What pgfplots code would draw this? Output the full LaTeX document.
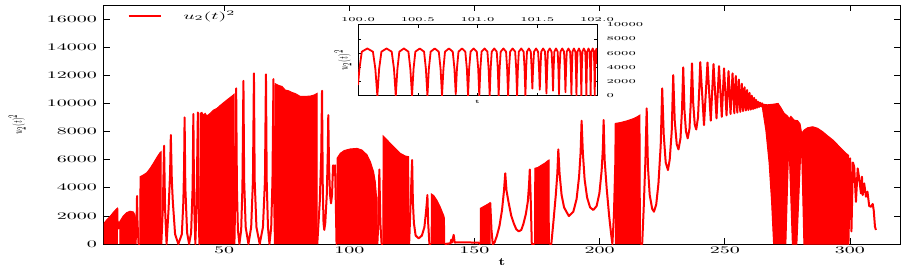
\documentclass[border=0pt]{standalone}
\usepackage{graphicx}
\usepackage{pgfplots}
\pgfplotsset{compat=1.18}
\begin{document}
\begin{tikzpicture}
\useasboundingbox (-104pt,-27pt) rectangle (809pt,244pt);
\begin{axis}[
  at={(0pt,0pt)}, anchor=south west,
  scale only axis, width=796pt, height=239pt,
  xmin=2, xmax=320, ymin=0, ymax=17000,
  xtick={50,100,...,300}, ytick={0,2000,...,16000},
  scaled ticks=false,
  /pgf/number format/1000 sep={},
  tick align=inside, major tick length=6pt,
  tick style={black, line width=0.6pt},
  axis line style={black, line width=1pt},
  xticklabel={\scalebox{2}[1]{$\pgfmathprintnumber{\tick}$}},
  yticklabel={\scalebox{2}[1]{$\pgfmathprintnumber{\tick}$}},
  yticklabel style={xshift=-3.5pt},
  xlabel={\scalebox{1.5}[1.1]{$\mathbf{t}$}},
  xlabel style={at={(axis description cs:0.5,0)}, anchor=center, yshift=-18pt},
  ylabel={\scalebox{1}[2.5]{\fontsize{5}{6}\selectfont $u_2(t)^2$}},
  ylabel style={at={(axis description cs:-0.109,0.5)}, anchor=center},
  legend style={draw=none, fill=none, at={(axis description cs:0.03,0.954)}, anchor=west, inner sep=0pt},
]
\addlegendimage{red, line width=1.2pt, legend image code/.code={\draw[draw=red, line width=1.2pt] (0pt,0pt) -- (32pt,0pt);}}
\addlegendentry{\hspace*{20pt}\scalebox{2}[1]{$u_2(t)^2$}}
% filled dense regions
\addplot[fill=red, draw=red, line width=1pt, forget plot] coordinates {(2.0,0) (2.0,1470) (3.0,1700) (4.4,1950) (5.7,2240) (6.8,2460) (7.3,2536) (7.35,0)};
\addplot[fill=red, draw=red, line width=1pt, forget plot] coordinates {(8.3,0) (8.3,1590) (9.7,1990) (11.1,2230) (12.4,2330) (13.7,2280) (14.4,2060) (14.6,1800) (14.6,0)};
\addplot[fill=red, draw=red, line width=1pt, forget plot] coordinates {(16.3,0) (16.4,4787) (17.7,4906) (19.1,5070) (20.4,5370) (21.7,5730) (23.1,6150) (24.4,6500) (24.8,6560) (24.9,0)};
\addplot[fill=red, draw=red, line width=1pt, forget plot] coordinates {(40.3,0) (40.4,9290) (41.1,9360) (41.7,9170) (42.4,9290) (43.1,9100) (44.4,9290) (45.7,9520) (47.1,9640) (48.4,9850) (49.7,10040) (51.1,10240) (52.4,10420) (53.7,10600) (54.0,10650) (54.1,0)};
\addplot[fill=red, draw=red, line width=1pt, forget plot] coordinates {(70.3,0) (70.4,11400) (71.7,11280) (73.1,11210) (74.4,10950) (75.7,10900) (77.1,10780) (78.4,10700) (80.4,10500) (82.4,10500) (84.4,10520) (86.0,10600) (87.1,10710) (87.2,0)};
\addplot[fill=red, draw=red, line width=1pt, forget plot] coordinates {(95.0,0) (95.1,6100) (96.4,6450) (98.0,6650) (100.4,6760) (103.1,6800) (105.1,6680) (107.1,6330) (108.4,5850) (109.7,5140) (110.4,4400) (110.8,3500) (111.1,3300) (111.2,0)};
\addplot[fill=red, draw=red, line width=1pt, forget plot] coordinates {(113.4,0) (113.5,7680) (115.1,7396) (117.7,6920) (120.4,6445) (122.4,6255) (123.7,6210) (123.9,0)};
\addplot[fill=red, draw=red, line width=1pt, forget plot] coordinates {(132.7,0) (132.8,3555) (133.7,3450) (135.1,3080) (136.4,2600) (137.7,2025) (138.0,1830) (138.1,0)};
\addplot[fill=red, draw=red, line width=1pt, forget plot] coordinates {(152.3,0) (152.4,2540) (154.0,2700) (155.5,2850) (156.3,2940) (156.3,0)};
\addplot[fill=red, draw=red, line width=1pt, forget plot] coordinates {(174.0,0) (174.1,5380) (175.4,5450) (176.7,5600) (178.1,5750) (179.5,5950) (179.8,5972) (179.9,0)};
\addplot[fill=red, draw=red, line width=1pt, forget plot] coordinates {(206.3,0) (206.4,8580) (208.4,8640) (211.1,8770) (213.7,8930) (215.1,9055) (216.1,9170) (216.3,0)};
\addplot[fill=red, draw=red, line width=1pt, forget plot] coordinates {(269.5,0) (268.7,3000) (267.7,5800) (266.4,8105) (265.1,9600) (265.1,9950) (267.0,9900) (269.7,9950) (271.3,10000) (272.4,9700) (273.7,9300) (275.1,9100) (275.7,8900) (276.4,9080) (277.7,8810) (279.1,8770) (280.1,8530) (280.7,7870) (281.7,8105) (283.1,8270) (285.1,8340) (287.1,8230) (289.1,7990) (291.1,7690) (293.1,7410) (295.1,7050) (297.1,6690) (298.4,6450) (299.3,6330) (299.4,0) (281.6,0) (280.6,7600) (278.8,0) (277.0,0) (275.6,7400) (274.4,0)};
% oscillating line segments
\addplot[red, line width=2pt, line join=round, forget plot] coordinates {(7.3,2536) (7.45,1100) (8.2,1150) (8.35,1590)};
\addplot[red, line width=2pt, line join=round, forget plot] coordinates {(14.6,0) (15.0,1500) (15.2,3413) (15.4,1500) (15.8,0) (16.3,0)};
\addplot[red, line width=2pt, line join=round, forget plot] coordinates {(24.9,0) (25.5,2500) (26.0,6990) (26.4,2500) (27.0,0) (27.8,2500) (28.4,5000) (28.7,7750) (29.1,4500) (29.5,3000) (30.4,700) (31.7,0) (33.1,700) (33.7,3000) (34.0,5500) (34.2,9005) (34.5,4000) (35.2,800) (36.0,0) (36.8,800) (37.4,4000) (37.7,9240) (38.0,3000) (38.5,0) (39.0,3000) (39.5,9360) (39.8,3000) (40.1,0) (40.3,0)};
\addplot[red, line width=2pt, line join=round, forget plot] coordinates {(54.1,0) (54.5,4000) (54.8,11070) (55.1,4000) (55.5,1000) (56.1,0) (56.8,1000) (57.3,4000) (57.7,11600) (58.0,4500) (58.6,1200) (59.7,0) (60.8,1200) (61.5,4500) (61.9,12135) (62.2,4500) (62.9,1200) (64.2,0) (65.5,1200) (66.3,4500) (66.7,12060) (67.0,4500) (67.5,1200) (68.1,0) (68.8,1200) (69.3,4500) (69.7,11730) (70.0,3000) (70.3,0)};
\addplot[red, line width=2pt, line join=round, forget plot] coordinates {(87.2,0) (88.2,3000) (88.8,6500) (89.1,10900) (89.4,4000) (89.7,1500) (90.0,1000) (90.4,1500) (91.0,3500) (91.4,6500) (91.6,9170) (91.9,5500) (92.3,3500) (92.7,2890) (93.1,3500) (93.5,5600) (93.9,4900) (94.3,5600) (94.6,3000) (94.9,0) (95.0,0)};
\addplot[red, line width=2pt, line join=round, forget plot] coordinates {(111.2,0) (111.6,1500) (112.0,5300) (112.4,1500) (112.9,0) (113.4,0)};
\addplot[red, line width=2pt, line join=round, forget plot] coordinates {(123.9,0) (124.4,2500) (124.8,4500) (125.1,5972) (125.4,3000) (125.8,1500) (126.5,600) (127.7,400) (129.0,600) (130.0,1200) (130.6,2200) (131.0,3000) (131.2,3484) (131.5,1500) (132.0,0) (132.7,0)};
\addplot[red, line width=2pt, line join=round, forget plot] coordinates {(138.1,0) (140.4,50) (140.7,300) (141.0,100) (141.7,650) (142.1,100) (143.0,120) (151.6,100) (152.2,0) (152.3,0)};
\addplot[red, line width=2pt, line join=round, forget plot] coordinates {(156.3,2940) (156.8,1000) (157.3,0) (158.0,100) (159.0,600) (160.0,1300) (161.0,2400) (161.8,3800) (162.3,5030) (162.8,3800) (163.7,2890) (164.7,2000) (165.7,1470) (166.7,1050) (167.7,900) (168.7,1000) (169.5,1400) (170.5,2100) (171.3,3000) (171.8,4200) (172.1,5300) (172.5,3000) (172.9,0) (174.0,0)};
\addplot[red, line width=2pt, line join=round, forget plot] coordinates {(179.9,0) (180.7,0) (181.5,1500) (182.5,3500) (183.1,5000) (183.5,6730) (184.0,5000) (184.8,3500) (185.8,2600) (187.7,1990) (189.5,2300) (190.8,3200) (191.8,4800) (192.4,6500) (192.8,8770) (193.3,6500) (194.0,4600) (195.0,3300) (196.2,2600) (197.5,2420) (198.8,2700) (199.9,3600) (200.8,5200) (201.3,6800) (201.6,8820) (202.0,6000) (202.8,4000) (203.8,2000) (204.6,700) (205.1,0) (205.7,2000) (206.3,6000) (206.4,8580)};
\addplot[red, line width=2pt, line join=round, forget plot] coordinates {(216.3,0) (217.0,0) (217.6,2500) (218.3,6000) (218.8,9645) (219.3,5500) (220.0,3500) (221.0,2500) (221.7,2300) (222.6,2800) (223.5,4300) (224.4,7000) (225.0,11070) (225.6,7800) (226.4,5800) (227.3,5260) (228.0,6000) (228.8,8000) (229.4,12015) (230.0,8800) (230.8,7100) (231.5,6730) (232.3,7500) (232.9,9500) (233.4,12560) (233.9,9500) (234.5,8000) (235.2,7515) (235.9,8200) (236.4,10000) (236.9,12840) (237.4,10000) (238.0,8500) (238.6,8150) (239.3,9000) (239.8,11000) (240.2,12930) (241.7,8460) (243.1,12910) (244.4,8770) (245.5,12800) (246.7,8940) (247.7,12650) (248.8,9050) (249.7,12490) (250.7,9150) (251.5,12300) (252.3,9250) (253.1,12140) (253.8,9300) (254.4,11950) (255.0,9350) (255.6,11700) (256.2,9400) (256.8,11400) (257.3,9450) (257.9,11150) (258.4,9500) (258.9,10950) (259.4,9530) (259.9,10750) (260.4,9560) (260.8,10550) (261.3,9600) (261.7,10400) (262.1,9650) (262.5,10250) (262.9,9700) (263.3,10120) (263.7,9750) (264.1,10050) (264.5,9800) (264.9,10000) (265.1,9700)};
\addplot[red, line width=2pt, line join=round, forget plot] coordinates {(299.3,6330) (299.4,0) (300.1,6090) (300.6,900) (301.2,5800) (301.7,5500) (302.4,3000) (303.1,5380) (303.7,4670) (304.4,3600) (304.8,4785) (305.1,3480) (305.7,4310) (306.4,3365) (307.0,3720) (307.7,2700) (308.4,2650) (309.1,2850) (309.5,2400) (310.0,1230) (310.4,1000)};
\end{axis}
\begin{axis}[
  at={(254pt,148.3pt)}, anchor=south west,
  scale only axis, width=239pt, height=71pt,
  xmin=100, xmax=102, ymin=0, ymax=10000,
  xtick={100,100.5,...,102}, ytick={0,2000,...,10000},
  scaled ticks=false,
  /pgf/number format/1000 sep={},
  xticklabel pos=upper, yticklabel pos=right,
  tick align=inside, major tick length=3pt,
  tick style={black, line width=0.5pt},
  axis background/.style={fill=white},
  axis line style={black, line width=0.8pt},
  xticklabel={\scalebox{2}[1]{\fontsize{6.5}{7}\selectfont$\pgfmathprintnumber[fixed,fixed zerofill,precision=1]{\tick}$}},
  yticklabel={\scalebox{2}[1]{\fontsize{6.5}{7}\selectfont$\pgfmathprintnumber{\tick}$}},
  yticklabel style={xshift=6pt},
  xlabel={\scalebox{1.4}[1]{\fontsize{5}{6}\selectfont$\mathbf{t}$}},
  xlabel style={at={(axis description cs:0.5,0)}, anchor=center, yshift=-6pt},
  ylabel={\scalebox{1}[2.5]{\fontsize{4.5}{5}\selectfont $u_2(t)^2$}},
  ylabel style={at={(axis description cs:-0.063,0.5)}, anchor=center},
]
\addplot[red, line width=1.8pt, line join=round] coordinates {
(100.000,1500) (100.012,3800) (100.032,6200) (100.078,6650) (100.125,6200) (100.145,3800) (100.162,0)
(100.177,3800) (100.196,6200) (100.239,6650) (100.282,6200) (100.301,3800) (100.316,0)
(100.330,3800) (100.346,6200) (100.384,6650) (100.422,6200) (100.438,3800) (100.452,0)
(100.465,3800) (100.480,6200) (100.517,6650) (100.553,6200) (100.568,3800) (100.581,0)
(100.593,3800) (100.608,6200) (100.642,6650) (100.676,6200) (100.691,3800) (100.703,0)
(100.715,3800) (100.728,6200) (100.761,6650) (100.793,6200) (100.807,3800) (100.818,200)
(100.828,3800) (100.841,6200) (100.870,6650) (100.898,6200) (100.911,3800) (100.921,0)
(100.930,3800) (100.942,6200) (100.968,6650) (100.994,6200) (101.006,3800) (101.015,0)
(101.024,3800) (101.034,6200) (101.059,6650) (101.083,6200) (101.093,3800) (101.102,0)
(101.110,3800) (101.119,6200) (101.140,6650) (101.161,6200) (101.170,3800) (101.177,0)
(101.185,3800) (101.194,6200) (101.217,6650) (101.239,6200) (101.248,3800) (101.256,0)
(101.264,3800) (101.273,6200) (101.294,6650) (101.315,6200) (101.324,3800) (101.331,0)
(101.338,3800) (101.346,6200) (101.366,6650) (101.386,6200) (101.394,3800) (101.401,0)
(101.407,3800) (101.414,6200) (101.430,6650) (101.446,6200) (101.453,3800) (101.459,1000)
(101.465,3800) (101.473,6200) (101.490,6650) (101.507,6200) (101.515,3800) (101.521,850)
(101.527,3800) (101.533,6200) (101.549,6650) (101.565,6200) (101.571,3800) (101.577,300)
(101.583,3800) (101.589,6200) (101.605,6650) (101.620,6200) (101.627,3800) (101.632,700)
(101.637,3800) (101.643,6200) (101.657,6650) (101.671,6200) (101.677,3800) (101.682,200)
(101.687,3800) (101.694,6200) (101.709,6650) (101.724,6200) (101.731,3800) (101.736,500)
(101.741,3800) (101.747,6200) (101.761,6650) (101.775,6200) (101.781,3800) (101.786,150)
(101.790,3800) (101.795,6200) (101.807,6650) (101.819,6200) (101.824,3800) (101.828,0)
(101.832,3800) (101.837,6200) (101.849,6650) (101.860,6200) (101.865,3800) (101.869,0)
(101.873,3800) (101.878,6200) (101.890,6650) (101.902,6200) (101.907,3800) (101.911,0)
(101.915,3800) (101.919,6200) (101.929,6650) (101.939,6200) (101.943,3800) (101.947,0)
(101.950,3800) (101.954,6200) (101.964,6650) (101.974,6200) (101.978,3800) (101.981,0)
(101.984,3800) (101.988,6200) (101.995,6600) (102.000,4500)
};
\end{axis}
\end{tikzpicture}
\end{document}
